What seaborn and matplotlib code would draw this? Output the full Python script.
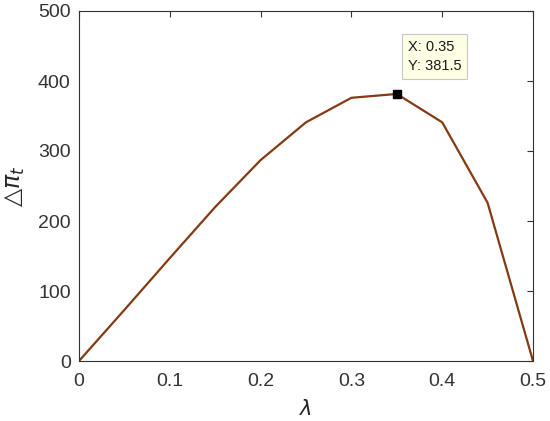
import matplotlib
matplotlib.use('Agg')
import matplotlib.pyplot as plt
import seaborn as sns
import pandas as pd

lam = [0, 0.05, 0.1, 0.15, 0.2, 0.25, 0.3, 0.35, 0.4, 0.45, 0.5]
dpi_t = [0, 73, 147, 220, 287, 341, 376, 381.5, 341, 226, 0]
tip_x, tip_y = 0.35, 381.5

df = pd.DataFrame({'lam': lam, 'dpi': dpi_t})

sns.set_style('white')
plt.rcParams['font.family'] = ['Liberation Sans', 'DejaVu Sans']

fig = plt.figure(figsize=(5.5, 4.21), dpi=100)
ax = fig.add_axes([79/550, 1-361/421, (533-79)/550, (361-11)/421])
sns.lineplot(data=df, x='lam', y='dpi', color='#843a12', linewidth=1.6, ax=ax)
ax.plot([tip_x], [tip_y], marker='s', color='black', markersize=6)
ax.annotate(f'X: {tip_x}\nY: {tip_y}', xy=(tip_x, tip_y), xytext=(8, 15),
            textcoords='offset points', fontsize=10.5, va='bottom', ha='left',
            linespacing=1.45, color='#1a1a1a',
            bbox=dict(boxstyle='square,pad=0.4', fc='#ffffe6', ec='#c8c8c8', lw=0.8))

ax.set_xlim(0, 0.5)
ax.set_ylim(0, 500)
ax.set_xticks([0, 0.1, 0.2, 0.3, 0.4, 0.5])
ax.set_xticklabels(['0', '0.1', '0.2', '0.3', '0.4', '0.5'])
ax.set_yticks([0, 100, 200, 300, 400, 500])
ax.tick_params(direction='in', top=True, right=True, labelsize=14, colors='#333333',
               length=4, width=0.8)
ax.tick_params(axis='x', pad=9)
ax.tick_params(axis='y', pad=6)
for s in ax.spines.values():
    s.set_color('#333333')
    s.set_linewidth(0.8)
ax.set_xlabel(r'$\lambda$', fontsize=15, color='#262626', labelpad=6)
ax.set_ylabel('△' + r'$\pi_t$', fontsize=17, color='#262626',
              family=['DejaVu Sans'], labelpad=8)

fig.savefig('out.png', dpi=100)
